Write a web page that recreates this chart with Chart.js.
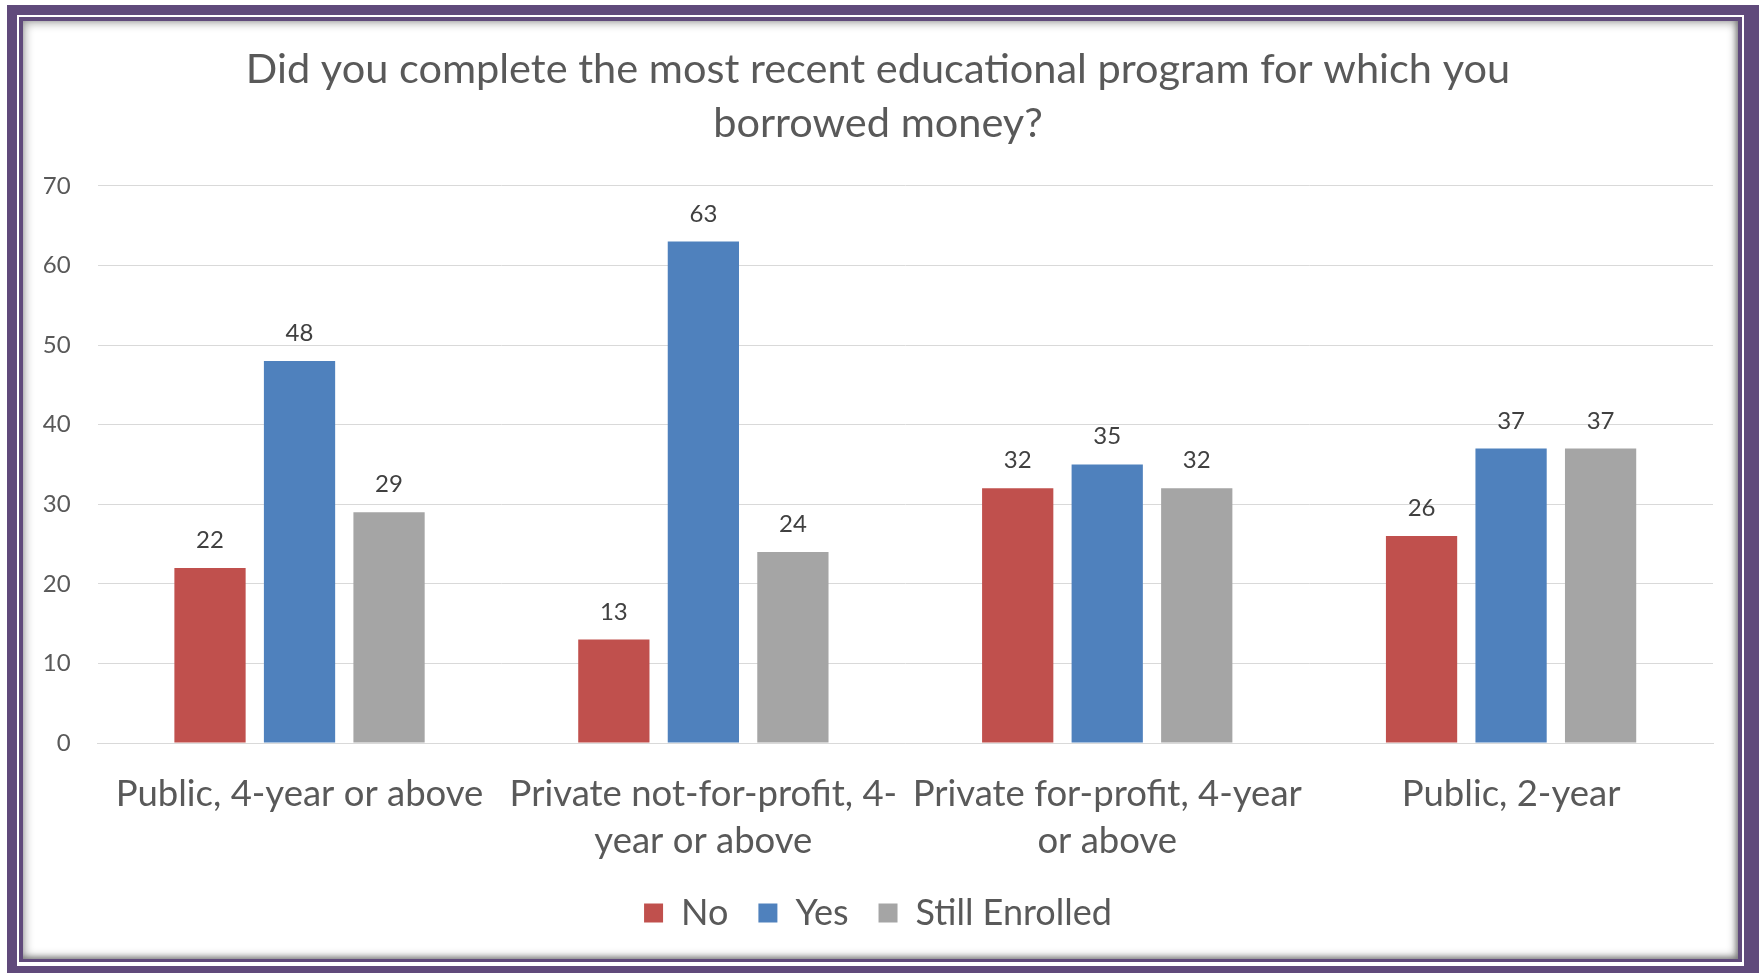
<!DOCTYPE html>
<html>
<head>
<meta charset="utf-8">
<title>Completion of borrowed-for programs</title>
<script src="https://cdn.jsdelivr.net/npm/chart.js@4.4.1/dist/chart.umd.min.js"></script>
<style>
  html, body { margin: 0; padding: 0; background: #fff; }
  body { width: 1759px; height: 973px; position: relative; overflow: hidden; }
  .frame { position: absolute; }
  #outer { left: 7px; top: 5px; width: 1752px; height: 968px; background: #604a7b; }
  #line { left: 17px; top: 15px; width: 1727px; height: 951px; background: #fff; }
  #inner { left: 19px; top: 17px; width: 1723px; height: 945px; background: #604a7b; }
  #panel { left: 23px; top: 21px; width: 1715px; height: 938px; background: #fff;
           box-shadow: inset 0 0 10px 2px rgba(0,0,0,.35), inset -2px -2px 5px rgba(0,0,0,.3); }
  #panel canvas { position: absolute; left: 0; top: 0; }
</style>
</head>
<body>
<div class="frame" id="outer"></div>
<div class="frame" id="line"></div>
<div class="frame" id="inner"></div>
<div class="frame" id="panel"><canvas id="chart" width="1715" height="938"></canvas></div>

<script>
// school types, wrapped the way the axis shows them
var categories = [
    ["Public, 4-year or above"],
    ["Private not-for-profit, 4-", "year or above"],
    ["Private for-profit, 4-year", "or above"],
    ["Public, 2-year"]
];

var seriesNames = ["No", "Yes", "Still Enrolled"];
var noValues = [22, 13, 32, 26];
var yesValues = [48, 63, 35, 37];
var enrolledValues = [29, 24, 32, 37];

var yTicks = [0, 10, 20, 30, 40, 50, 60, 70];

var titleLines = [
    "Did you complete the most recent educational program for which you",
    "borrowed money?"
];

var FONT = "Lato";
var TEXT = "#595959";

// numbers above each bar
var valueLabels = {
    id: "valueLabels",
    afterDatasetsDraw: function(chart) {
        var c = chart.ctx;
        c.save();
        c.font = "24px " + FONT;
        c.fillStyle = "#404040";
        c.textAlign = "center";
        c.textBaseline = "alphabetic";
        chart.data.datasets.forEach(function(ds, i) {
            chart.getDatasetMeta(i).data.forEach(function(bar, j) {
                c.fillText(ds.data[j], bar.x, bar.y - 20);
            });
        });
        c.restore();
    }
};

var ctx = document.getElementById("chart");

var chart = new Chart(ctx, {
    type: "bar",
    data: {
        labels: categories,
        datasets: [
            { label: seriesNames[0], data: noValues, backgroundColor: "#C0504D" },
            { label: seriesNames[1], data: yesValues, backgroundColor: "#4F81BD" },
            { label: seriesNames[2], data: enrolledValues, backgroundColor: "#A5A5A5" }
        ]
    },
    options: {
        responsive: false,
        animation: false,
        layout: { padding: { left: 20, right: 25, top: 22, bottom: 18 } },
        datasets: {
            bar: { categoryPercentage: 0.665, barPercentage: 0.796 }
        },
        plugins: {
            title: {
                display: true,
                text: titleLines,
                color: TEXT,
                font: { family: FONT, size: 41.5, weight: "normal", lineHeight: 1.3 },
                padding: { top: 0, bottom: 35 }
            },
            legend: {
                position: "bottom",
                labels: {
                    color: TEXT,
                    font: { family: FONT, size: 36 },
                    boxWidth: 19,
                    boxHeight: 19,
                    padding: 30
                }
            },
            tooltip: { enabled: false }
        },
        scales: {
            x: {
                grid: { display: false, drawTicks: false },
                border: { display: true, color: "#D9D9D9" },
                ticks: {
                    color: TEXT,
                    font: { family: FONT, size: 36.5, lineHeight: 1.29 },
                    padding: 28,
                    autoSkip: false,
                    maxRotation: 0,
                    minRotation: 0
                },
                // long first label shouldn't push the plot inward
                afterFit: function(axis) {
                    axis.paddingLeft = 0;
                    axis.paddingRight = 0;
                    axis.height = 122;
                }
            },
            y: {
                min: yTicks[0],
                max: yTicks[yTicks.length - 1],
                grid: { color: "#D9D9D9", drawTicks: false },
                border: { display: false },
                afterBuildTicks: function(axis) {
                    axis.ticks = yTicks.map(function(v) { return { value: v }; });
                },
                afterFit: function(axis) {
                    axis.width = 54.6;
                },
                ticks: {
                    color: TEXT,
                    font: { family: FONT, size: 24 },
                    padding: 27
                }
            }
        }
    },
    plugins: [valueLabels]
});
</script>
</body>
</html>
